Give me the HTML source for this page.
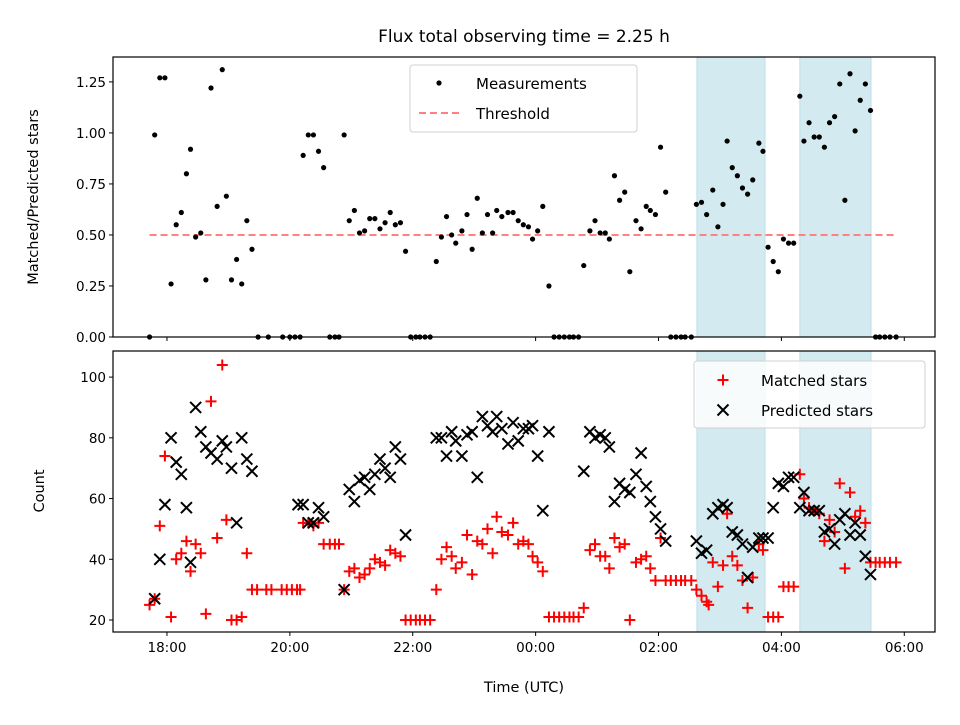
<!DOCTYPE html>
<html><head><meta charset="utf-8">
<style>
html,body{margin:0;padding:0;background:#fff;}
svg text{font-family:"DejaVu Sans","Liberation Sans",sans-serif;fill:#000;}
</style></head>
<body>
<svg id="chart" width="960" height="720" xmlns="http://www.w3.org/2000/svg">
<rect width="960" height="720" fill="#fff"/>
<text x="524" y="42" font-size="17" text-anchor="middle">Flux total observing time = 2.25 h</text>
<g id="topPanel"></g>
<g id="botPanel"></g>
<text transform="translate(38,197) rotate(-90)" font-size="14.5" text-anchor="middle">Matched/Predicted stars</text>
<text transform="translate(44,491) rotate(-90)" font-size="14.5" text-anchor="middle">Count</text>
<text x="524" y="692" font-size="14.5" text-anchor="middle">Time (UTC)</text>
</svg>
<script>
// minutes after 18:00
const ratioTimes=[-17,-12,-7,-2,4,9,14,19,23,28,33,38,43,49,54,58,63,68,73,78,83,89,99,113,120,125,130,133,138,143,148,153,159,164,168,173,178,183,188,193,198,203,208,213,218,223,228,233,238,243,247,252,257,263,268,273,278,282,288,293,298,303,308,313,318,322,327,333,338,343,348,353,357,362,367,373,378,383,388,393,397,402,407,413,418,423,428,432,437,442,447,452,458,463,468,472,477,482,487,492,497,502,506,512,517,522,527,533,538,543,547,552,557,562,567,572,578,582,587,592,597,602,607,612,618,622,627,632,637,642,647,652,657,662,667,672,677,682,687,692,696,701,706,712];
const ratioValues=[0,.99,1.27,1.27,.26,.55,.61,.80,.92,.49,.51,.28,1.22,.64,1.31,.69,.28,.38,.26,.57,.43,0,0,0,0,0,0,.89,.99,.99,.91,.83,0,0,0,.99,.57,.62,.51,.52,.58,.58,.53,.56,.61,.55,.56,.42,0,0,0,0,0,.37,.49,.59,.50,.46,.52,.60,.43,.68,.51,.60,.51,.62,.59,.61,.61,.57,.55,.54,.48,.52,.64,.25,0,0,0,0,0,0,.35,.52,.57,.51,.51,.48,.79,.67,.71,.32,.57,.53,.64,.62,.60,.93,.71,0,0,0,0,0,.65,.66,.60,.72,.54,.65,.96,.83,.79,.73,.70,.77,.95,.91,.44,.37,.32,.48,.46,.46,1.18,.96,1.05,.98,.98,.93,1.05,1.08,1.24,.67,1.29,1.01,1.16,1.24,1.11,0,0,0,0,0];
const matchedTimes=[-17,-12,-7,-2,4,9,14,19,23,28,33,38,43,49,54,58,63,68,73,78,83,88,97,102,112,117,122,127,130,133,138,143,148,153,159,164,168,173,178,183,188,193,198,203,208,213,218,223,228,233,238,243,247,252,257,263,268,273,278,282,288,293,298,303,308,313,318,322,327,333,338,343,348,353,357,362,367,373,378,383,388,393,397,402,407,413,418,423,428,432,437,442,447,452,458,463,468,472,477,482,487,492,497,502,506,512,517,522,527,529,533,538,543,547,552,557,562,567,572,578,582,587,592,597,602,607,612,618,622,627,632,637,642,647,652,657,662,667,672,677,682,687,692,696,701,706,712];
const matchedValues=[25,27,51,74,21,40,42,46,36,45,42,22,92,47,104,53,20,20,21,42,30,30,30,30,30,30,30,30,30,52,52,51,52,45,45,45,45,30,36,37,34,35,37,40,39,38,43,42,41,20,20,20,20,20,20,30,40,44,41,37,39,48,35,46,45,50,42,54,49,48,52,45,46,45,41,39,36,21,21,21,21,21,21,21,24,43,45,41,41,37,47,44,45,20,39,40,41,37,33,47,33,33,33,33,33,33,30,28,26,25,39,31,38,55,41,38,33,24,34,45,43,21,21,21,31,31,31,68,60,57,56,55,46,53,49,65,37,62,54,56,52,39,39,39,39,39,39];
const predictedTimes=[-12,-7,-2,4,9,14,19,23,28,33,38,43,49,54,58,63,68,73,78,83,128,133,138,143,148,153,173,178,183,188,193,198,203,208,213,218,223,228,233,263,268,273,278,282,288,293,298,303,308,313,318,322,327,333,338,343,348,353,357,362,367,373,407,413,418,423,428,432,437,442,447,452,458,463,468,472,477,482,487,517,522,527,533,538,543,547,552,557,562,567,572,578,582,587,592,597,602,607,612,618,622,627,632,637,642,647,652,657,662,667,672,677,682,687];
const predictedValues=[27,40,58,80,72,68,57,39,90,82,77,75,73,79,77,70,52,80,73,69,58,58,52,52,57,54,30,63,59,66,67,63,68,73,70,67,77,73,48,80,80,74,82,79,74,81,82,67,87,84,82,87,83,78,85,79,83,83,84,74,56,82,69,82,80,81,80,77,59,65,63,62,68,75,64,59,54,50,46,46,42,43,55,57,58,57,49,48,45,34,44,47,47,47,57,65,64,67,67,57,62,56,56,56,49,50,45,53,55,48,52,48,41,35];
const thresholdValue=0.5;
const thresholdSpan=[-17,712];
const shadeSpans=[[517.5,584],[618,687.5]];
const xTickMinutes=[0,120,240,360,480,600,720];
const xTickLabels=["18:00","20:00","22:00","00:00","02:00","04:00","06:00"];
const topYTicks=[0,0.25,0.5,0.75,1.0,1.25];
const topYTickLabels=["0.00","0.25","0.50","0.75","1.00","1.25"];
const botYTicks=[20,40,60,80,100];

const NS="http://www.w3.org/2000/svg";
const L=113,R=935, TT=57,TB=337, BT=351,BB=632;
const XMIN=-52.7,XMAX=750;
function sx(m){return L+(m-XMIN)/(XMAX-XMIN)*(R-L);}
function syTop(v){return TB-(v-0)/(1.372-0)*(TB-TT);}
function syBot(v){return BB-(v-16.05)/(108.6-16.05)*(BB-BT);}
function mk(tag,attrs,parent){const e=document.createElementNS(NS,tag);for(const k in attrs)e.setAttribute(k,attrs[k]);parent.appendChild(e);return e;}

const topG=document.getElementById('topPanel'), botG=document.getElementById('botPanel');
function panel(g,T,B,name){
  shadeSpans.forEach((s,i)=>{
    const r=mk('rect',{x:sx(s[0]),y:T,width:sx(s[1])-sx(s[0]),height:B-T,fill:'#d4eaf1',stroke:'#bfdfe9','stroke-width':1},g);
    
    
  });
  xTickMinutes.forEach((m,i)=>{
    const t=mk('line',{x1:sx(m),x2:sx(m),y1:B,y2:B+4,stroke:'#000','stroke-width':1},g);
    
    
  });
}
panel(topG,TT,TB,'top');
panel(botG,BT,BB,'bottom');

const th=mk('line',{x1:sx(thresholdSpan[0]),x2:sx(thresholdSpan[1]),y1:syTop(thresholdValue),y2:syTop(thresholdValue),stroke:'#ff8080','stroke-width':2,'stroke-dasharray':'7,4'},topG);


ratioTimes.forEach((t,i)=>{
  const c=mk('circle',{cx:sx(t),cy:syTop(ratioValues[i]),r:2.6,fill:'#000'},topG);
  
  
});
topYTicks.forEach((v,i)=>{
  const y=syTop(v);
  mk('line',{x1:L-4,x2:L,y1:y,y2:y,stroke:'#000'},topG);
  const tx=mk('text',{x:L-7,y:y+5,'font-size':13.5,'text-anchor':'end'},topG);
  tx.textContent=topYTickLabels[i];
  
  
});
const tf=mk('rect',{x:L,y:TT,width:R-L,height:TB-TT,fill:'none',stroke:'#000','stroke-width':1.2},topG);



matchedTimes.forEach((t,i)=>{
  const x=sx(t),y=syBot(matchedValues[i]);
  const p=mk('path',{d:`M${x-5.5},${y}H${x+5.5}M${x},${y-5.5}V${y+5.5}`,stroke:'#ff0000','stroke-width':2},botG);
  
  
});
predictedTimes.forEach((t,i)=>{
  const x=sx(t),y=syBot(predictedValues[i]);
  const p=mk('path',{d:`M${x-5.5},${y-5.5}L${x+5.5},${y+5.5}M${x-5.5},${y+5.5}L${x+5.5},${y-5.5}`,stroke:'#000','stroke-width':2},botG);
  
  
});
botYTicks.forEach(v=>{
  const y=syBot(v);
  mk('line',{x1:L-4,x2:L,y1:y,y2:y,stroke:'#000'},botG);
  const tx=mk('text',{x:L-7,y:y+5,'font-size':13.5,'text-anchor':'end'},botG);
  tx.textContent=String(v);
  
  
});
xTickMinutes.forEach((m,i)=>{
  const tx=mk('text',{x:sx(m),y:BB+20,'font-size':13.5,'text-anchor':'middle'},botG);
  tx.textContent=xTickLabels[i];
  
  
});
const bf=mk('rect',{x:L,y:BT,width:R-L,height:BB-BT,fill:'none',stroke:'#000','stroke-width':1.2},botG);


</script>
<svg style="position:absolute;left:0;top:0" width="960" height="720" xmlns="http://www.w3.org/2000/svg">
<g>
<rect x="410" y="65" width="227" height="67" rx="3" fill="#fff" fill-opacity="0.85" stroke="#d0d0d0"/>
<circle cx="439" cy="83" r="2.6" fill="#000"/>
<text x="476" y="89" font-size="15">Measurements</text>
<line x1="419" x2="459" y1="113" y2="113" stroke="#ff8080" stroke-width="2" stroke-dasharray="7,4"/>
<text x="476" y="119" font-size="15">Threshold</text>
</g>
<g>
<rect x="694" y="361" width="231" height="67" rx="3" fill="#fff" fill-opacity="0.8" stroke="#d0d0d0"/>
<path d="M717.5,380H728.5M723,374.5V385.5" stroke="#ff0000" stroke-width="2"/>
<text x="761" y="386" font-size="15">Matched stars</text>
<path d="M717.5,404.5L728.5,415.5M717.5,415.5L728.5,404.5" stroke="#000" stroke-width="2"/>
<text x="761" y="416" font-size="15">Predicted stars</text>
</g>
</svg>
</body></html>
